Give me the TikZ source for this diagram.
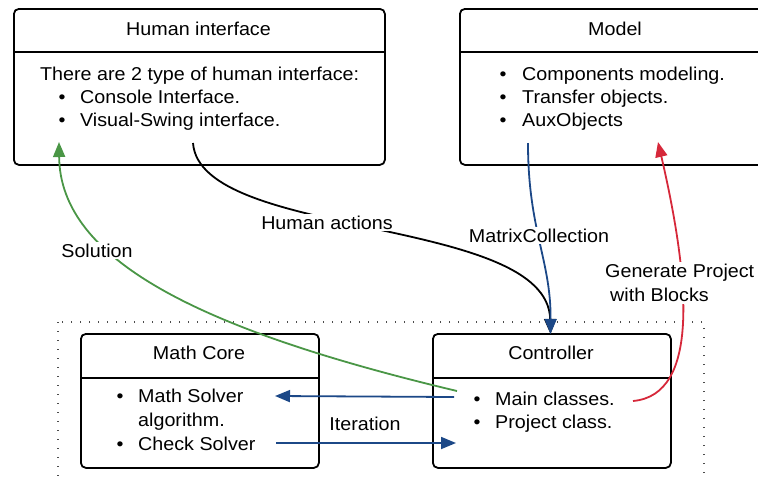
\documentclass[tikz,border=0pt]{standalone}
\usepackage{fontspec}
\setmainfont{Liberation Sans}[FakeStretch=1.06]
\usetikzlibrary{arrows.meta}
\definecolor{cgreen}{RGB}{74,150,70}
\definecolor{cblue}{RGB}{28,72,135}
\definecolor{cred}{RGB}{214,40,58}
\tikzset{
  umlbox/.style={draw, line width=1.8pt, rounded corners=5pt, anchor=north west, inner sep=0pt},
  divline/.style={line width=1.6pt},
  txt/.style={font=\fontsize{18.6}{22}\selectfont, inner sep=0pt, anchor=base west},
  ctxt/.style={font=\fontsize{18.6}{22}\selectfont, inner sep=0pt, anchor=base},
  lbl/.style={font=\fontsize{18.6}{22}\selectfont, fill=white, inner sep=2pt, align=center},
  conn/.style={line width=1.8pt, -{Triangle[length=15pt,width=12pt]}},
}
\begin{document}
\begin{tikzpicture}[x=1pt,y=-1pt]
\useasboundingbox (0,0) rectangle (758,477);
\clip (0,0) rectangle (758,477);
% dotted group
\draw[line width=1.4pt, dash pattern=on 1.4pt off 7.6pt, black!70] (58,322) rectangle (704,520);
% boxes
\node[umlbox, minimum width=371pt, minimum height=156pt] (hi) at (13,8) {};
\node[umlbox, minimum width=312pt, minimum height=156pt] (mo) at (459,8) {};
\node[umlbox, minimum width=238pt, minimum height=134pt] (mc) at (80,333) {};
\node[umlbox, minimum width=238pt, minimum height=134pt] (co) at (432,333) {};
\draw[divline] (hi.west |- 0,52) -- (hi.east |- 0,52);
\draw[divline] (mo.west |- 0,52) -- (mo.east |- 0,52);
\draw[divline] (mc.west |- 0,378) -- (mc.east |- 0,378);
\draw[divline] (co.west |- 0,378) -- (co.east |- 0,378);
% titles
\node[ctxt] (hit) at (198.5,35) {Human interface};
\node[ctxt] (mot) at (615,35) {Model};
\node[ctxt] (mct) at (199,359) {Math Core};
\node[ctxt] (cot) at (551,359) {Controller};
% human interface body
\node[txt] (hi1) at (40,80) {There are 2 type of human interface:};
\node[ctxt] (hib1) at (62,103.3) {•};
\node[txt] (hi2) at (80,103.3) {Console Interface.};
\node[ctxt] (hib2) at (62,126.7) {•};
\node[txt] (hi3) at (80,126.7) {Visual-Swing interface.};
% model body
\node[ctxt] (mob1) at (503,80) {•};
\node[txt] (mo1) at (522,80) {Components modeling.};
\node[ctxt] (mob2) at (503,103.3) {•};
\node[txt] (mo2) at (522,103.3) {Transfer objects.};
\node[ctxt] (mob3) at (503,126.7) {•};
\node[txt] (mo3) at (522,126.7) {AuxObjects};
% math core body
\node[ctxt] (mcb1) at (120,402) {•};
\node[txt] (mc1) at (138,402) {Math Solver};
\node[txt] (mc2) at (138,426) {algorithm.};
\node[ctxt] (mcb2) at (120,450) {•};
\node[txt] (mc3) at (138,450) {Check Solver};
% controller body
\node[ctxt] (cob1) at (477,405) {•};
\node[txt] (co1) at (495,405) {Main classes.};
\node[ctxt] (cob2) at (477,428) {•};
\node[txt] (co2) at (495,428) {Project class.};
% connector ends
\coordinate (hiIn) at (59,142);
\coordinate (hiOut) at (193,143);
\coordinate (moOut) at (528,143);
\coordinate (moIn) at (658,142);
\coordinate (coTop) at (550.5,334);
\coordinate (coSol) at (457,391);
\coordinate (coMain) at (454,397);
\coordinate (coIn) at (456,443);
\coordinate (coRed) at (633,401);
\coordinate (mcIn) at (275,396);
\coordinate (mcOut) at (276,443);
% connectors
\draw[conn, cgreen] (coSol) .. controls (200,330) and (60,260) .. (hiIn);
\draw[conn, black] (hiOut) .. controls (200,240) and (548,215) .. (coTop);
\draw[conn, cblue] (moOut) .. controls (528,230) and (551,260) .. (coTop);
\draw[conn, cred] (coRed) .. controls (700,395) and (690,280) .. (moIn);
\draw[conn, cblue] (coMain) -- (mcIn);
\draw[conn, cblue] (mcOut) -- (coIn);
% labels
\node[lbl, anchor=base] (lsol) at (97,257) {Solution};
\node[lbl, anchor=base] (lha) at (327,229) {Human actions};
\node[lbl, anchor=base] (lmc) at (539,242) {MatrixCollection};
\node[lbl, anchor=north west, align=left, inner sep=2pt, font=\fontsize{18.6}{24}\selectfont] (lgp) at (603,262) {Generate Project\\\hspace*{5pt}with Blocks};
\node[txt, fill=white, inner sep=2pt, anchor=base] (lit) at (365,430) {Iteration};
\end{tikzpicture}
\end{document}
